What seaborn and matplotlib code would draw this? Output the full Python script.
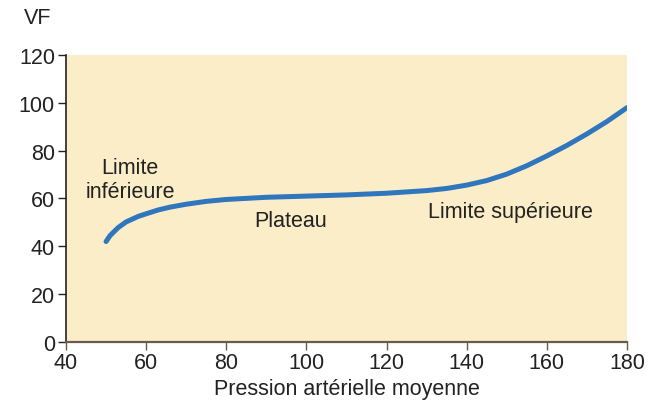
import matplotlib
matplotlib.use("Agg")
import matplotlib.pyplot as plt
import seaborn as sns
import pandas as pd

# Autoregulation curve: flow (VF) versus mean arterial pressure
pressure = [50, 51, 53, 55, 58, 60, 63, 66, 70, 75, 80, 90, 100, 110, 120, 130, 135, 140, 145, 150, 155, 160, 165, 170, 175, 180]
flow = [42, 44.5, 47.8, 50.2, 52.5, 53.6, 55.2, 56.4, 57.6, 58.8, 59.6, 60.5, 61.0, 61.5, 62.2, 63.3, 64.2, 65.6, 67.5, 70.2, 73.7, 77.8, 82.2, 87.0, 92.2, 98.0]

x_ticks = [40, 60, 80, 100, 120, 140, 160, 180]
y_ticks = [0, 20, 40, 60, 80, 100, 120]

sns.set_theme(style="ticks")
plt.rcParams["font.family"] = ["Liberation Sans", "DejaVu Sans"]

df = pd.DataFrame({"pression": pressure, "vf": flow})

fig = plt.figure(figsize=(6.58, 4.02), dpi=100)
ax = fig.add_axes([0.1003, 0.1468, 0.8526, 0.7139])
ax.set_facecolor("#FCEDC9")

sns.lineplot(data=df, x="pression", y="vf", ax=ax, color="#2F76BD",
             linewidth=3.6, solid_capstyle="round")

FS = 15.5
ax.set_xlim(40, 180)
ax.set_ylim(0, 120)
ax.set_xticks(x_ticks)
ax.set_yticks(y_ticks)
ax.tick_params(labelsize=FS, length=6, width=1, colors="#222222", pad=2)
ax.tick_params(axis="x", colors="#6B5B4B", labelcolor="#222222", pad=1)

for s in ["top", "right"]:
    ax.spines[s].set_visible(False)
ax.spines["left"].set_color("#222222")
ax.spines["left"].set_linewidth(1.2)
ax.spines["bottom"].set_color("#6B5B4B")
ax.spines["bottom"].set_linewidth(1.6)

ax.set_xlabel("Pression artérielle moyenne", fontsize=FS, color="#222222", labelpad=4)
ax.set_ylabel("")
fig.text(38 / 658, 1 - 19 / 402, "VF", fontsize=FS, color="#222222", ha="center", va="center")

ax.text(56, 68, "Limite\ninférieure", fontsize=FS, color="#222222", ha="center", va="center", linespacing=1.15)
ax.text(96, 50.6, "Plateau", fontsize=FS, color="#222222", ha="center", va="center")
ax.text(150.8, 54.4, "Limite supérieure", fontsize=FS, color="#222222", ha="center", va="center")

fig.savefig("out.png", dpi=100)
